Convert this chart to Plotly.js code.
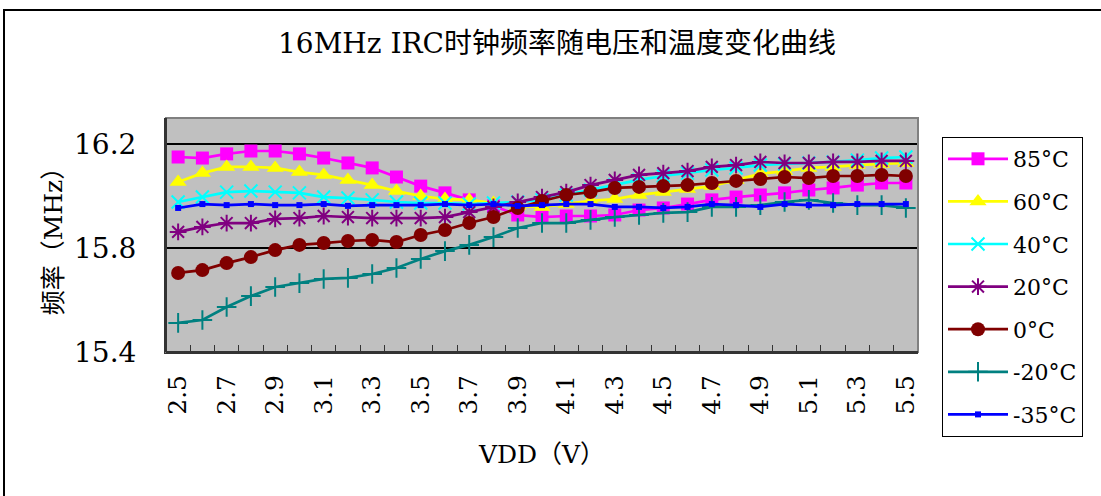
<!DOCTYPE html>
<html><head><meta charset="utf-8">
<script src="https://cdn.plot.ly/plotly-3.0.1.min.js"></script>
<style>body{margin:0;background:#fff}#chart{width:1101px;height:496px}</style>
</head><body><div id="chart"></div>
<script>
const vdd = ['2.5','2.6','2.7','2.8','2.9','3.0','3.1','3.2','3.3','3.4','3.5','3.6','3.7','3.8','3.9','4.0',
             '4.1','4.2','4.3','4.4','4.5','4.6','4.7','4.8','4.9','5.0','5.1','5.2','5.3','5.4','5.5'];
const tickLabels = ['2.5','','2.7','','2.9','','3.1','','3.3','','3.5','','3.7','','3.9','',
                    '4.1','','4.3','','4.5','','4.7','','4.9','','5.1','','5.3','','5.5'];
const yTicks = [15.4, 15.8, 16.2];
const yTickLabels = ['15.4', '15.8', '16.2'];
const seriesNames = ['85°C','60°C','40°C','20°C','0°C','-20°C','-35°C'];
const t85  = [16.150,16.146,16.162,16.173,16.173,16.162,16.146,16.127,16.108,16.073,16.038,16.012,15.985,15.962,15.927,15.919,15.923,15.923,15.927,15.946,15.954,15.969,15.985,15.996,16.004,16.012,16.023,16.031,16.042,16.050,16.050];
const t60  = [16.054,16.088,16.112,16.112,16.108,16.092,16.081,16.062,16.042,16.019,16.000,15.988,15.985,15.973,15.962,15.958,15.969,15.981,15.988,16.004,16.015,16.027,16.038,16.062,16.085,16.096,16.108,16.112,16.119,16.123,16.127];
const t40  = [15.977,15.996,16.015,16.019,16.015,16.012,15.996,15.992,15.985,15.977,15.973,15.973,15.969,15.973,15.977,15.985,16.004,16.023,16.042,16.062,16.077,16.088,16.100,16.108,16.119,16.123,16.127,16.131,16.138,16.146,16.150];
const t20  = [15.862,15.881,15.896,15.896,15.912,15.915,15.923,15.919,15.915,15.915,15.915,15.919,15.938,15.958,15.977,15.996,16.015,16.042,16.062,16.081,16.088,16.096,16.112,16.119,16.131,16.127,16.127,16.131,16.131,16.135,16.135];
const t0   = [15.704,15.715,15.742,15.765,15.792,15.812,15.819,15.827,15.831,15.823,15.850,15.869,15.896,15.919,15.954,15.981,16.004,16.015,16.031,16.035,16.038,16.042,16.050,16.058,16.065,16.073,16.069,16.077,16.077,16.081,16.077];
const tm20 = [15.512,15.523,15.573,15.615,15.650,15.665,15.681,15.685,15.700,15.723,15.758,15.788,15.812,15.842,15.877,15.896,15.896,15.908,15.919,15.927,15.935,15.938,15.958,15.958,15.965,15.977,15.985,15.973,15.965,15.965,15.954];
const tm35 = [15.954,15.969,15.965,15.969,15.965,15.965,15.969,15.962,15.965,15.965,15.965,15.969,15.965,15.969,15.962,15.965,15.969,15.969,15.958,15.958,15.954,15.958,15.969,15.965,15.958,15.969,15.965,15.965,15.969,15.969,15.969];
const seriesValues = [t85,t60,t40,t20,t0,tm20,tm35];

const styles = [
  {color:'#ff00ff', symbol:'square', size:13, lw:0},
  {color:'#ffff00', symbol:'triangle-up', size:15, lw:0},
  {color:'#00ffff', symbol:'x-thin-open', size:13, lw:2},
  {color:'#800080', symbol:'asterisk-open', size:14, lw:2},
  {color:'#800000', symbol:'circle', size:14, lw:0},
  {color:'#008080', symbol:'cross-thin-open', size:14, lw:2},
  {color:'#0000ff', symbol:'square', size:6, lw:0}
];

const traces = seriesNames.map((n,i)=>({
  type:'scatter', mode:'lines+markers', name:n, x:vdd, y:seriesValues[i],
  legendgroup:'g'+i,
  line:{color:styles[i].color, width:2.7},
  marker:{color:styles[i].color, symbol:styles[i].symbol, size:styles[i].size,
          line:{color:styles[i].color, width:styles[i].lw}}
}));

const L=166, R=183, T=118, B=144, PW=1101-L-R, PH=496-T-B;
const px2x = p => (p-L)/PW, py2y = p => (496-B-p)/PH;
const serif = '"DejaVu Serif", "Noto Sans CJK SC", serif';

const layout = {
  width:1101, height:496,
  margin:{l:L, r:R, t:T, b:B},
  paper_bgcolor:'#ffffff', plot_bgcolor:'#c0c0c0',
  font:{family:serif, color:'#000'},
  title:{text:'16MHz IRC时钟频率随电压和温度变化曲线', font:{size:28, family:serif, color:'#000'},
         x:px2x(557), xref:'paper', xanchor:'center', y:1-43/496, yref:'container', yanchor:'middle'},
  xaxis:{type:'category', tickmode:'array', tickvals:vdd, ticktext:tickLabels,
         tickangle:-90, tickson:'boundaries', ticks:'inside', ticklen:7, tickcolor:'#333', tickwidth:1,
         tickfont:{size:25, family:serif}, ticklabelstandoff:11,
         showline:true, linecolor:'#333', linewidth:2, showgrid:false, zeroline:false,
         range:[-0.5,30.5], automargin:false,
         title:{text:'VDD（V）', font:{size:25, family:serif}, standoff:32}},
  yaxis:{range:[15.4,16.3], tickmode:'array', tickvals:yTicks, ticktext:yTickLabels,
         showgrid:true, gridcolor:'#000', gridwidth:1.5, showline:true, linecolor:'#333', linewidth:2,
         ticks:'', tickfont:{size:28, family:serif}, ticklabelstandoff:22, zeroline:false, automargin:false,
         title:{text:'频率（MHz）', font:{size:25, family:serif}, standoff:4}},
  legend:{x:px2x(942), y:py2y(137), xanchor:'left', yanchor:'top', xref:'paper', yref:'paper',
          bgcolor:'#ffffff', bordercolor:'#000', borderwidth:1, font:{size:22, family:serif},
          tracegroupgap:11, itemwidth:60, entrywidth:150, maxheight:420},
  shapes:[
    {type:'rect', xref:'paper', yref:'paper', x0:0, x1:1, y0:0, y1:1, line:{color:'#808080', width:2}, layer:'above'},
    {type:'line', xref:'paper', yref:'paper', x0:0, x1:0, y0:0, y1:1, line:{color:'#333', width:2}, layer:'above'},
    {type:'line', xref:'paper', yref:'paper', x0:0, x1:1, y0:0, y1:0, line:{color:'#333', width:2}, layer:'above'},
    {type:'rect', xref:'paper', yref:'paper', x0:px2x(4), x1:px2x(1120), y0:py2y(10), y1:py2y(520), line:{color:'#000', width:2}}
  ],
  showlegend:true
};
Plotly.newPlot('chart', traces, layout, {displayModeBar:false, staticPlot:true});
</script></body></html>
